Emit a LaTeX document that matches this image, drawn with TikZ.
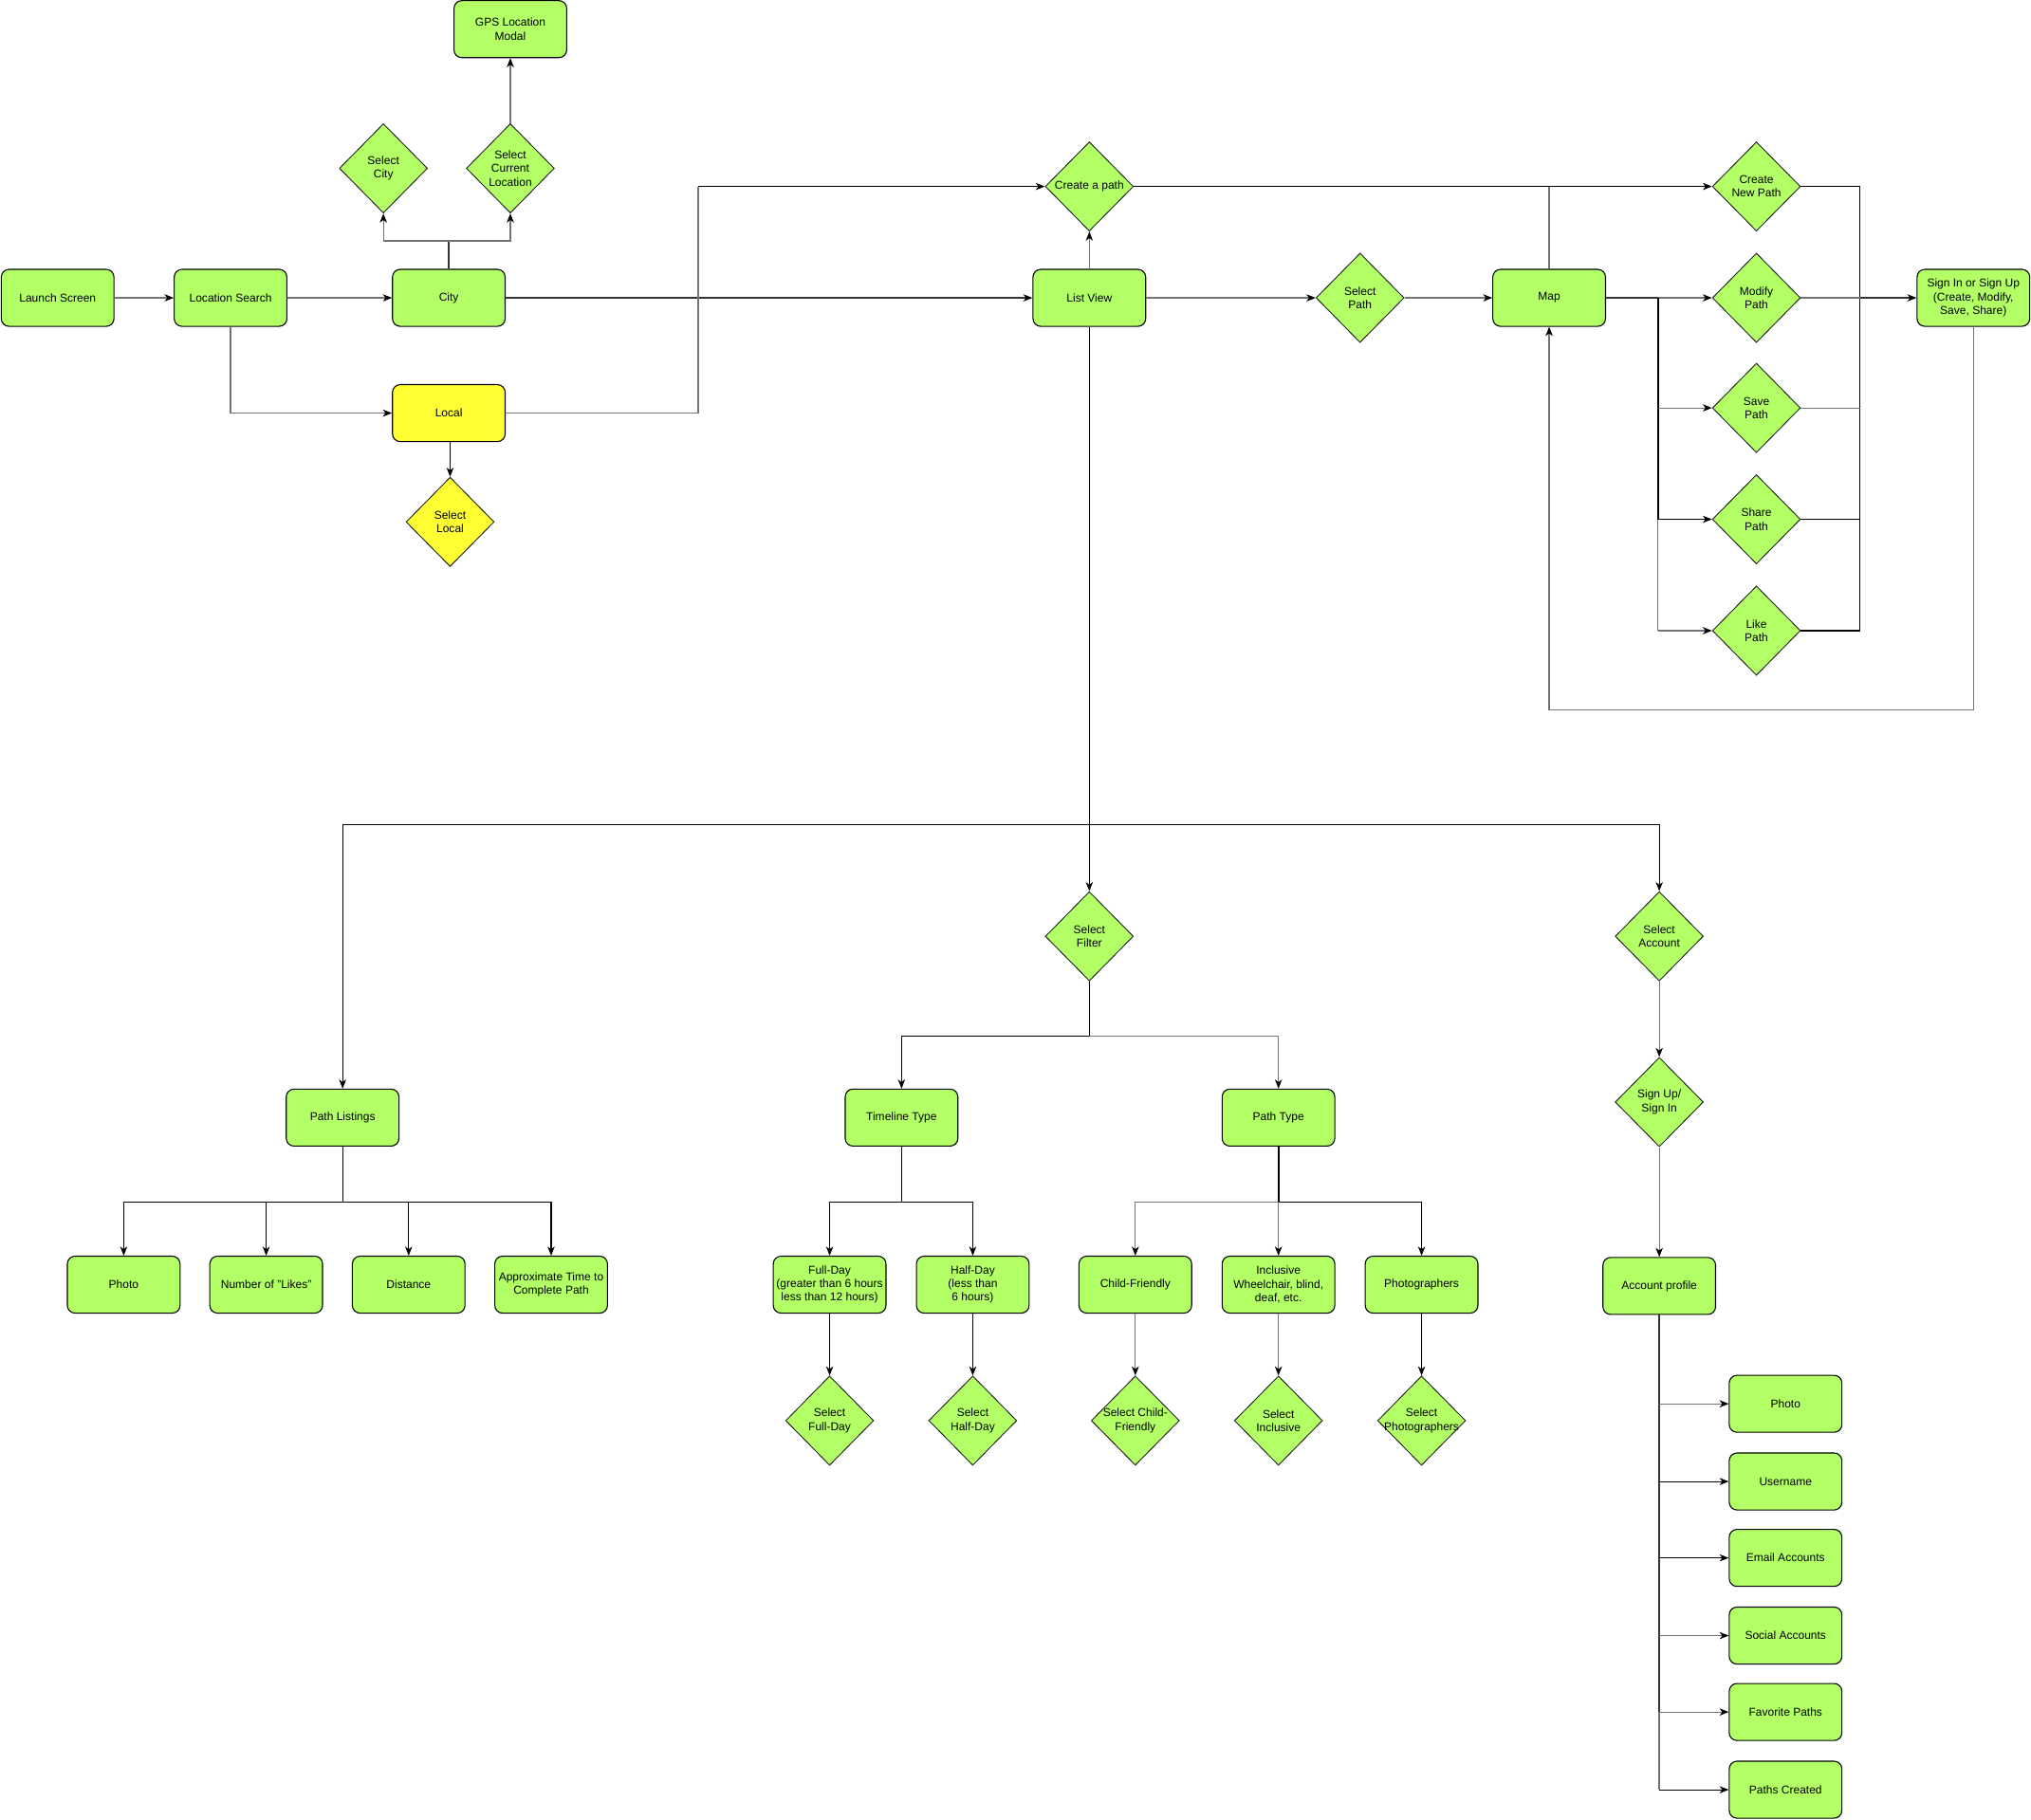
\documentclass[tikz,border=0pt]{standalone}
\usepackage{fontspec}
\setmainfont{Liberation Sans}
\usetikzlibrary{shapes.geometric,arrows.meta}
\definecolor{lgreen}{HTML}{B3FF66}
\definecolor{lyellow}{HTML}{FFFF33}
\definecolor{cgray}{HTML}{737373}
\tikzset{
 box/.style={draw=black, line width=0.8pt, rounded corners=6pt, fill=lgreen, minimum width=87pt, minimum height=44pt, inner sep=1pt, align=center, font=\fontsize{8.8}{10.5}\selectfont},
 dia/.style={draw=black!85, line width=0.7pt, diamond, fill=lgreen, minimum width=68pt, minimum height=69pt, inner sep=0pt},
 dtxt/.style={align=center, font=\fontsize{8.8}{10.5}\selectfont, inner sep=0pt},
 con/.style={line width=0.8pt, draw=black},
 gcon/.style={line width=0.9pt, draw=cgray},
 tcon/.style={line width=1.4pt, draw=black!80},
 arr/.style={-{Stealth[length=7pt,width=5.5pt,inset=2pt,color=black]}},
}
\newcommand{\dnode}[4][lgreen]{\node[dia,fill=#1] (#2) at (#3) {};\node[dtxt] at (#2) {#4};}
\begin{document}
\begin{tikzpicture}[x=1pt,y=-1pt]
\useasboundingbox (0,0) rectangle (1568,1405);
% ---- top row
\node[box] (launch) at (44.5,230) {Launch Screen};
\node[box] (locsearch) at (178,230) {Location Search};
\node[box] (city) at (346.5,230) {City};
\node[box,fill=lyellow] (local) at (346.5,319) {Local};
\dnode[lyellow]{sellocal}{347.5,403}{Select\\Local}
\dnode{selcity}{296,130}{Select\\City}
\dnode{selcur}{394,130}{Select\\Current\\Location}
\node[box] (gps) at (394,22.5) {GPS Location\\Modal};
\node[box] (listview) at (841,230) {List View};
\dnode{create}{841,144}{Create a path}
\dnode{selpath}{1050,230}{Select\\Path}
\node[box] (map) at (1196,230) {Map};
\dnode{cnew}{1356,144}{Create\\New Path}
\dnode{modify}{1356,230}{Modify\\Path}
\dnode{save}{1356,315}{Save\\Path}
\dnode{share}{1356,401}{Share\\Path}
\dnode{like}{1356,487}{Like\\Path}
\node[box] (signin) at (1523.5,230) {Sign In or Sign Up\\(Create, Modify,\\Save, Share)};
% ---- lower
\dnode{selfilter}{841,723}{Select\\Filter}
\dnode{selacct}{1281,723}{Select\\Account}
\dnode{signup}{1281,851}{Sign Up/\\Sign In}
\node[box] (acct) at (1281,993) {Account profile};
\node[box] (aphoto) at (1378.5,1084) {Photo};
\node[box] (auser) at (1378.5,1144) {Username};
\node[box] (aemail) at (1378.5,1203) {Email Accounts};
\node[box] (asocial) at (1378.5,1263) {Social Accounts};
\node[box] (afav) at (1378.5,1322) {Favorite Paths};
\node[box] (acreated) at (1378.5,1382) {Paths Created};
\node[box] (plist) at (264.5,863) {Path Listings};
\node[box] (lphoto) at (95.5,992) {Photo};
\node[box] (llikes) at (205.5,992) {Number of "Likes"};
\node[box] (ldist) at (315.5,992) {Distance};
\node[box] (ltime) at (425.5,992) {Approximate Time to\\Complete Path};
\node[box] (ttype) at (696,863) {Timeline Type};
\node[box] (ptype) at (987,863) {Path Type};
\node[box] (fullday) at (640.5,992) {Full-Day\\(greater than 6 hours\\less than 12 hours)};
\node[box] (halfday) at (751,992) {Half-Day\\(less than\\6 hours)};
\node[box] (child) at (876.5,992) {Child-Friendly};
\node[box] (incl) at (987,992) {Inclusive\\Wheelchair, blind,\\deaf, etc.};
\node[box] (photog) at (1097.5,992) {Photographers};
\dnode{selfull}{640.5,1097}{Select\\Full-Day}
\dnode{selhalf}{751,1097}{Select\\Half-Day}
\dnode{selchild}{876.5,1097}{Select Child-\\Friendly}
\dnode{selincl}{987,1097}{Select\\Inclusive}
\dnode{selphot}{1097.5,1097}{Select\\Photographers}
% ---- junction coordinates
\coordinate (cj) at (346.5,186);
\coordinate (k1) at (539,144);
\coordinate (mj) at (1280,230);
\coordinate (rj) at (1436,230);
\coordinate (lp) at (1523.5,548);
\coordinate (lj) at (841,637);
\coordinate (fj) at (841,800);
\coordinate (pj) at (264.5,928);
\coordinate (tj) at (696,928);
\coordinate (yj) at (987,928);
% ---- connectors top
\draw[gcon,arr] (launch) -- (locsearch);
\draw[gcon,arr] (locsearch) -- (city);
\draw[gcon,arr] (locsearch.south) |- (local.west);
\draw[tcon] (city.north) -- (cj);
\draw[gcon,arr] (cj) -| (selcity.south);
\draw[gcon,arr] (cj) -| (selcur.south);
\draw[gcon,arr] (selcur.north) -- (gps.south);
\draw[con,arr] (sellocal.north |- local.south) -- (sellocal.north);
\draw[tcon,arr] (city) -- (listview);
\draw[gcon] (local.east) -| (k1);
\draw[con,arr] (k1) -- (create.west);
\draw[gcon,arr] (listview) -- (create);
\draw[gcon,arr] (listview) -- (selpath);
\draw[gcon,arr] (selpath) -- (map);
\draw[con,arr] (create.east) -- (cnew.west);
\draw[gcon] (map.north) -- (map.north |- create.east);
\draw[tcon] (map.east) -- (mj);
\draw[gcon,arr] (mj) -- (modify.west);
\draw[con,line width=1.2pt] (mj) -- (mj |- share.west);
\draw[gcon] (mj |- share.west) -- (mj |- like.west);
\draw[gcon,arr] (mj |- save.west) -- (save.west);
\draw[con,arr] (mj |- share.west) -- (share.west);
\draw[gcon,arr] (mj |- like.west) -- (like.west);
\draw[con] (cnew.east) -- (rj |- cnew.east) -- (rj |- like.east) -- (like.east);
\draw[gcon] (modify.east) -- (rj);
\draw[gcon] (save.east) -- (rj |- save.east);
\draw[con] (share.east) -- (rj |- share.east);
\draw[tcon,arr] (rj) -- (signin.west);
\draw[gcon,arr] (signin.south) -- (lp) -| (map.south);
% ---- connectors lower
\draw[con,line width=1.2pt] (listview.south) -- (lj);
\draw[con,arr] (lj) -| (plist.north);
\draw[con,arr] (lj) -| (selacct.north);
\draw[con,arr] (lj) -- (selfilter.north);
\draw[con] (selfilter.south) -- (fj);
\draw[con,arr] (fj) -| (ttype.north);
\draw[gcon,arr] (fj) -| (ptype.north);
\draw[con] (plist.south) -- (pj);
\draw[con,arr] (pj) -| (lphoto.north);
\draw[con,arr] (pj) -| (llikes.north);
\draw[con,arr] (pj) -| (ldist.north);
\draw[con,arr] (pj) -| (ltime.north);
\draw[con] (ttype.south) -- (tj);
\draw[con,arr] (tj) -| (fullday.north);
\draw[con,arr] (tj) -| (halfday.north);
\draw[con,line width=1.2pt] (ptype.south) -- (yj);
\draw[gcon,arr] (yj) -| (child.north);
\draw[gcon,arr] (yj) -- (incl.north);
\draw[con,arr] (yj) -| (photog.north);
\draw[con,arr] (fullday) -- (selfull);
\draw[con,arr] (halfday) -- (selhalf);
\draw[gcon,arr] (child) -- (selchild);
\draw[gcon,arr] (incl) -- (selincl);
\draw[con,arr] (photog) -- (selphot);
\draw[gcon,arr] (selacct) -- (signup);
\draw[gcon,arr] (signup) -- (acct);
\draw[tcon] (acct.south) -- (acct.south |- afav.west);
\draw[gcon,line width=1.4pt] (acct.south |- afav.west) -- (acct.south |- acreated.west);
\draw[gcon,arr] (acct.south |- aphoto.west) -- (aphoto.west);
\draw[con,arr] (acct.south |- auser.west) -- (auser.west);
\draw[con,arr] (acct.south |- aemail.west) -- (aemail.west);
\draw[gcon,arr] (acct.south |- asocial.west) -- (asocial.west);
\draw[gcon,arr] (acct.south |- afav.west) -- (afav.west);
\draw[con,arr] (acct.south |- acreated.west) -- (acreated.west);
\end{tikzpicture}
\end{document}
